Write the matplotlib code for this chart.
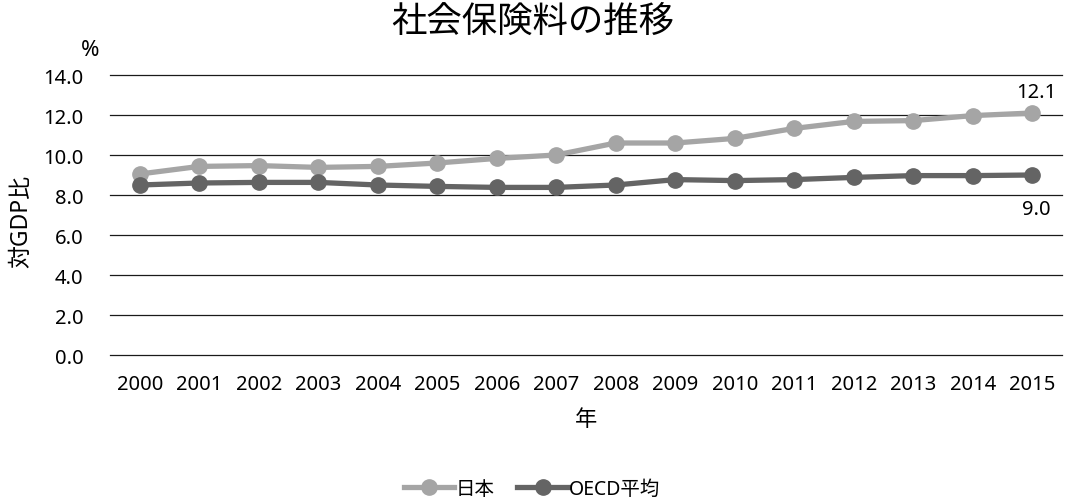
import matplotlib
matplotlib.use("Agg")
from matplotlib import pyplot as plt
import numpy as np

plt.rcParams['font.family'] = ['Noto Sans', 'Noto Sans CJK JP', 'DejaVu Sans']

years = [str(y) for y in range(2000, 2016)]
japan = [9.05, 9.43, 9.47, 9.38, 9.43, 9.6, 9.83, 10.0, 10.6, 10.6, 10.83, 11.33, 11.68, 11.72, 11.97, 12.1]
oecd = [8.5, 8.6, 8.63, 8.63, 8.5, 8.43, 8.38, 8.38, 8.5, 8.77, 8.72, 8.77, 8.88, 8.97, 8.97, 9.0]
y_ticks = [0, 2, 4, 6, 8, 10, 12, 14]

japan_color = "#a5a5a5"
oecd_color = "#646464"

fig = plt.figure(figsize=(10.66, 5.02), dpi=100)
ax = fig.add_axes([110 / 1066, 1 - 356 / 502, (1062 - 110) / 1066, (356 - 76) / 502])

x = np.arange(len(years))
ax.plot(x, japan, color=japan_color, lw=3.8, marker='o', ms=11, label="日本", zorder=3)
ax.plot(x, oecd, color=oecd_color, lw=3.8, marker='o', ms=11, label="OECD平均", zorder=3)

ax.set_xlim(-0.5, len(years) - 0.5)
ax.set_ylim(0, 14)
ax.set_yticks(y_ticks)
ax.set_yticklabels(["%.1f" % v for v in y_ticks], fontsize=14.5)
ax.set_xticks(x)
ax.set_xticklabels(years, fontsize=14.5)
ax.tick_params(axis='x', length=0, pad=14)
ax.tick_params(axis='y', length=0, pad=19)
ax.grid(axis='y', color='#1a1a1a', lw=0.9)
for gl in ax.get_ygridlines():
    gl.set_clip_on(False)
ax.set_axisbelow(True)
for s in ax.spines.values():
    s.set_visible(False)

# value labels on the last year
ax.annotate("%.1f" % japan[-1], (x[-1], japan[-1]), xytext=(3, 8), textcoords='offset points',
            ha='center', va='bottom', fontsize=14.5)
ax.annotate("%.1f" % oecd[-1], (x[-1], oecd[-1]), xytext=(3, -17), textcoords='offset points',
            ha='center', va='top', fontsize=14.5)

fig.text(533 / 1066, 1 - 23 / 502, "社会保険料の推移", ha='center', va='center', fontsize=25.5)
fig.text(90 / 1066, 1 - 51 / 502, "%", ha='center', va='center', fontsize=16, fontweight='bold')
fig.text(21 / 1066, 1 - 221 / 502, "対GDP比", ha='center', va='center', rotation=90, fontsize=16.5)
fig.text(586 / 1066, 1 - 421 / 502, "年", ha='center', va='center', fontsize=16)

fig.legend(loc='center', bbox_to_anchor=(532 / 1066, 1 - 490 / 502), ncol=2, frameon=False,
           fontsize=14, handlelength=2.6, columnspacing=1.2, handletextpad=0.05)

fig.savefig("out.png", dpi=100)
